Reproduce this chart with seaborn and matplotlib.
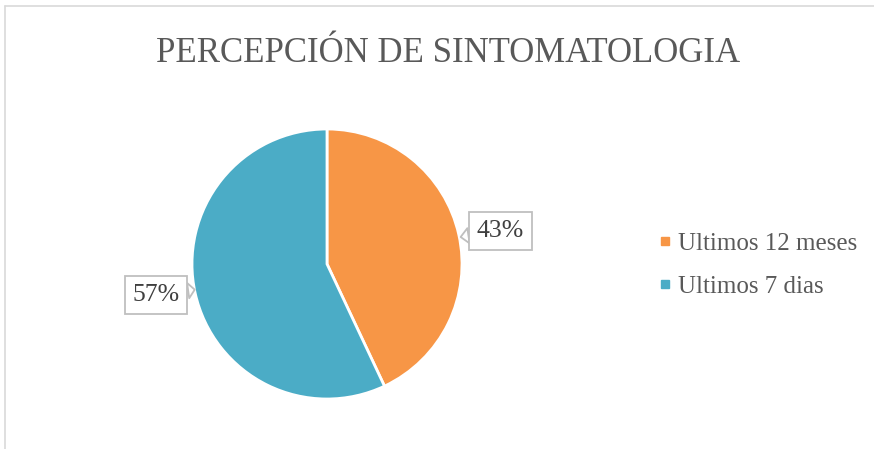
import matplotlib
matplotlib.use("Agg")
import matplotlib.pyplot as plt
import seaborn as sns
import numpy as np

# data
categories = ["Ultimos 12 meses", "Ultimos 7 dias"]
values = [43, 57]
colors = ["#F79646", "#4BACC6"]
title = "PERCEPCIÓN DE SINTOMATOLOGIA"

sns.set_style("white")
plt.rcParams["font.family"] = ["Liberation Serif", "DejaVu Serif"]

fig = plt.figure(figsize=(8.74, 4.49), dpi=100)

# chart frame (top and left edges visible)
fig.add_artist(plt.Line2D([5 / 874, 5 / 874], [0, 1 - 6 / 449], color="#D9D9D9", lw=1.2))
fig.add_artist(plt.Line2D([5 / 874, 1], [1 - 6 / 449, 1 - 6 / 449], color="#D9D9D9", lw=1.2))

fig.text(0.513, 1 - 54 / 449, title, ha="center", va="center", fontsize=25, color="#595959")

# pie axes: centre (327, 264) px, radius 135 px
cx, cy, r = 327, 264, 135
ax = fig.add_axes([(cx - r) / 874, 1 - (cy + r) / 449, 2 * r / 874, 2 * r / 449])
wedges, _ = ax.pie(values, colors=colors, startangle=90, counterclock=False,
                   wedgeprops=dict(edgecolor="white", linewidth=2), radius=1)
ax.set_xlim(-1, 1)
ax.set_ylim(-1, 1)
ax.set_aspect("auto")

# data labels with callout boxes
label_pos = [(1.285, 0.245), (-1.265, -0.23)]
tip_pos = [(0.99, 0.20), (-0.98, -0.19)]
total = sum(values)
for v, pos, tip in zip(values, label_pos, tip_pos):
    ax.annotate(f"{round(100 * v / total)}%", xy=tip, xytext=pos,
                ha="center", va="center", fontsize=18.5, color="#404040",
                bbox=dict(boxstyle="square,pad=0.3", fc="white", ec="#BFBFBF", lw=1.3),
                arrowprops=dict(arrowstyle="wedge,tail_width=0.6", fc="white", ec="#BFBFBF",
                                lw=1.3, shrinkA=0, shrinkB=0),
                annotation_clip=False)

handles = [plt.Line2D([], [], marker="s", linestyle="", markersize=6,
                      markerfacecolor=c, markeredgecolor=c) for c in colors]
fig.legend(handles, categories, loc="center left",
           bbox_to_anchor=(636 / 874, 1 - 265 / 449), frameon=False,
           fontsize=18, labelcolor="#595959", handlelength=0.5,
           handletextpad=0.3, labelspacing=0.82)

fig.savefig("out.png", dpi=100)
